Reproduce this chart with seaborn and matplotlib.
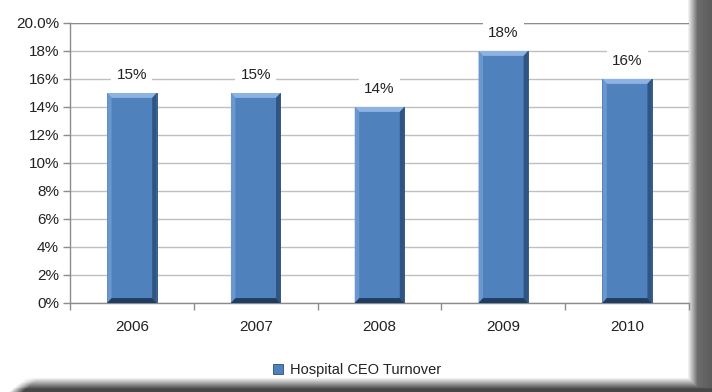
import numpy as np
import pandas as pd
import matplotlib
matplotlib.use("Agg")
import matplotlib.pyplot as plt
import matplotlib.patches as mpatches
from matplotlib.ticker import FixedLocator, FuncFormatter
import seaborn as sns

years = ["2006", "2007", "2008", "2009", "2010"]
turnover = [15, 15, 14, 18, 16]
series_name = "Hospital CEO Turnover"

df = pd.DataFrame({"year": years, "turnover": turnover})

sns.set_theme(style="white")
plt.rcParams["font.family"] = ["Liberation Sans", "DejaVu Sans"]

W, H = 712, 392
fig = plt.figure(figsize=(W / 100, H / 100), dpi=100)

# framed background with a soft dark drop shadow on the right and bottom
bg = np.ones((H, W, 3))
right0, right1 = 687, 697
for x in range(right0, W):
    if x < right1:
        g = 1.0 - 0.58 * (x - right0) / (right1 - right0)
    else:
        g = 0.42 - 0.06 * (x - right1) / (W - right1)
    bg[:H - 4, x, :] = np.minimum(bg[:H - 4, x, :], g)
bot0 = 377
for y in range(bot0, H):
    t = (y - bot0) / (H - bot0)
    g = 1.0 - 0.72 * min(1.0, t * 1.3)
    start = int(26 - 18 * t)
    for x in range(start, W):
        fade = min(1.0, (x - start) / 14.0)
        gg = 1.0 - (1.0 - g) * fade
        bg[y, x, :] = np.minimum(bg[y, x, :], gg)
bg_ax = fig.add_axes([0, 0, 1, 1], zorder=-5)
bg_ax.imshow(bg, aspect="auto", interpolation="bilinear")
bg_ax.axis("off")

ax = fig.add_axes([70 / W, 1 - 303 / H, 619 / W, 280 / H])
ax.patch.set_alpha(0)

bar_color = "#4F81BD"
sns.barplot(data=df, x="year", y="turnover", color=bar_color, width=0.4,
            saturation=1, ax=ax, zorder=3, edgecolor="#2C4D75", linewidth=0.6)

# bevel highlights on each bar
for p in ax.patches:
    x0, y0 = p.get_x(), p.get_y()
    w, h = p.get_width(), p.get_height()
    dx = w * 0.09
    dy = 0.35
    top = mpatches.Polygon([(x0, y0 + h), (x0 + w, y0 + h), (x0 + w - dx, y0 + h - dy),
                            (x0 + dx, y0 + h - dy)], closed=True, fc="#8DB3E2", ec="none", zorder=4)
    left = mpatches.Polygon([(x0, y0), (x0, y0 + h), (x0 + dx, y0 + h - dy), (x0 + dx, y0 + dy)],
                            closed=True, fc="#6A97CF", ec="none", zorder=4)
    right = mpatches.Polygon([(x0 + w, y0), (x0 + w, y0 + h), (x0 + w - dx, y0 + h - dy),
                              (x0 + w - dx, y0 + dy)], closed=True, fc="#2F5683", ec="none", zorder=4)
    bottom = mpatches.Polygon([(x0, y0), (x0 + w, y0), (x0 + w - dx, y0 + dy), (x0 + dx, y0 + dy)],
                              closed=True, fc="#1F3D63", ec="none", zorder=4)
    for poly in (top, left, right, bottom):
        ax.add_patch(poly)

for i, v in enumerate(turnover):
    ax.text(i, v + 1.3, f"{v}%", ha="center", va="center", fontsize=11, color="#222222",
            zorder=6, bbox=dict(boxstyle="square,pad=0.35", fc="white", ec="none"))

ax.set_xlim(-0.5, len(years) - 0.5)
ax.set_ylim(0, 20)
ax.yaxis.set_major_locator(FixedLocator(np.arange(0, 21, 2)))
ax.yaxis.set_major_formatter(FuncFormatter(lambda v, _: "20.0%" if v == 20 else f"{int(v)}%"))
ax.grid(axis="y", color="#C0C0C0", linewidth=1.0, zorder=0)
ax.set_axisbelow(True)
ax.axhline(20, color="#8C8C8C", linewidth=1.0, zorder=1)

for side in ("top", "right"):
    ax.spines[side].set_visible(False)
for side in ("left", "bottom"):
    ax.spines[side].set_visible(True)
    ax.spines[side].set_color("#8C8C8C")
    ax.spines[side].set_linewidth(1.0)

ax.set_xticks(np.arange(-0.5, len(years), 1.0), minor=True)
ax.tick_params(axis="x", which="major", length=0, pad=12, labelsize=11, colors="#222222")
ax.tick_params(axis="x", which="minor", length=5, width=1, color="#8C8C8C", direction="out", bottom=True)
ax.tick_params(axis="y", length=5, width=1, color="#8C8C8C", direction="out", left=True,
               labelsize=11, labelcolor="#222222", pad=3)
ax.set_xlabel("")
ax.set_ylabel("")

# legend
handle = mpatches.Patch(facecolor=bar_color, edgecolor="#2C4D75", linewidth=0.6, label=series_name)
fig.legend(handles=[handle], loc="center", bbox_to_anchor=(357 / W, 1 - 370 / H), frameon=False,
           fontsize=10.5, handlelength=0.7, handleheight=0.7, handletextpad=0.5,
           labelcolor="#222222")

fig.savefig("out.png", dpi=100)
